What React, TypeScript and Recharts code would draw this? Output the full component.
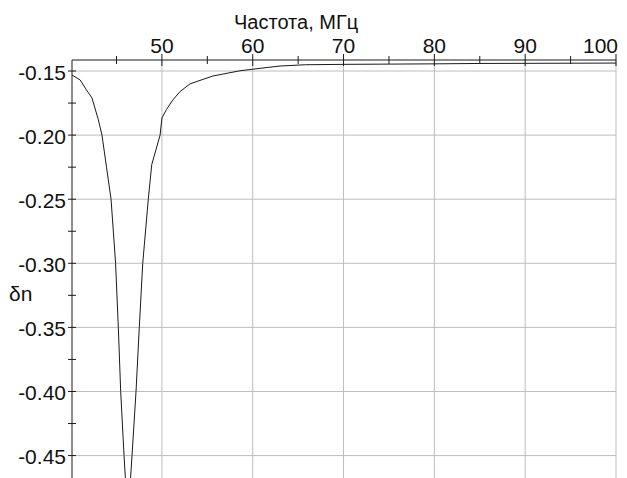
import { LineChart, Line, XAxis, YAxis, ReferenceLine } from "recharts";

const freq = [
  40.1, 41.0, 41.7, 42.3, 43.0, 43.4, 43.9, 44.4, 44.9, 45.2, 45.46, 45.83, 46.25,
  46.71, 47.15, 47.51, 47.89, 48.5, 48.88, 49.8, 50.0, 50.5, 51.2, 52.0, 53.1, 55.6,
  58.6, 60.8, 63.0, 65.8, 70, 75, 80, 85, 90, 95, 100,
];
const deltaN = [
  -0.1531, -0.157, -0.1648, -0.171, -0.188, -0.2, -0.225, -0.25, -0.3, -0.35, -0.4, -0.45, -0.5,
  -0.45, -0.4, -0.35, -0.3, -0.25, -0.223, -0.2, -0.1867, -0.18, -0.1726, -0.166, -0.16, -0.1539,
  -0.1498, -0.1479, -0.1461, -0.1451, -0.1448, -0.1446, -0.1444, -0.1441, -0.144, -0.1439, -0.1438,
];

const xMajor = [50, 60, 70, 80, 90, 100];
const xMinor = [45, 55, 65, 75, 85, 95];
const yMajor = [-0.15, -0.2, -0.25, -0.3, -0.35, -0.4, -0.45];
const yMinor = [-0.175, -0.225, -0.275, -0.325, -0.375, -0.425];

const data = freq.map((f, i) => ({ f, dn: deltaN[i] }));

const FONT = "'Liberation Sans', Arial, sans-serif";
const INK = "#1a1a1a";
const GRID = "#bdbdbd";

const XTick = ({ x, y, payload }: any) => {
  const v = payload.value;
  const major = xMajor.includes(v);
  const len = major ? 6 : 4;
  return (
    <g>
      <line x1={x} x2={x} y1={y - len} y2={y + len} stroke={INK} strokeWidth={1} />
      {major && (
        <text
          x={v === 100 ? x + 2 : x}
          y={y - 7.5}
          textAnchor={v === 100 ? "end" : "middle"}
          fontSize={21}
          fontFamily={FONT}
          fill="#111"
        >
          {v}
        </text>
      )}
    </g>
  );
};

const YTick = ({ x, y, payload }: any) => {
  const v = payload.value;
  const major = yMajor.some((m) => Math.abs(m - v) < 1e-9);
  return (
    <g>
      <line x1={x - 4} x2={x + 4} y1={y} y2={y} stroke={INK} strokeWidth={1} />
      {major && (
        <text x={x - 6} y={y + 8.5} textAnchor="end" fontSize={21} fontFamily={FONT} fill="#111">
          {v.toFixed(2)}
        </text>
      )}
    </g>
  );
};

export default function App() {
  return (
    <div
      style={{
        position: "absolute",
        left: 0,
        top: 0,
        width: 627,
        height: 478,
        background: "#fff",
        overflow: "hidden",
        fontFamily: FONT,
      }}
    >
      <LineChart width={627} height={478} data={data} margin={{ top: 30, right: 11, bottom: 0, left: 12 }}>
        {xMajor.map((v) => (
          <ReferenceLine key={"gx" + v} x={v} stroke={GRID} strokeWidth={1} />
        ))}
        {yMajor.map((v) => (
          <ReferenceLine key={"gy" + v} y={v} stroke={GRID} strokeWidth={1} />
        ))}
        <XAxis
          dataKey="f"
          type="number"
          orientation="top"
          domain={[40.1, 100]}
          ticks={[...xMinor, ...xMajor].sort((a, b) => a - b)}
          interval={0}
          height={30}
          tickSize={0}
          tickMargin={0}
          tickLine={false}
          axisLine={{ stroke: INK }}
          tick={XTick}
          allowDataOverflow
        />
        <YAxis
          type="number"
          domain={[-0.4675, -0.1414]}
          ticks={[...yMajor, ...yMinor].sort((a, b) => a - b)}
          interval={0}
          width={60}
          tickSize={0}
          tickMargin={0}
          tickLine={false}
          axisLine={{ stroke: INK }}
          tick={YTick}
          allowDataOverflow
        />
        <Line
          type="linear"
          dataKey="dn"
          stroke={INK}
          strokeWidth={1}
          dot={false}
          activeDot={false}
          isAnimationActive={false}
        />
      </LineChart>
      <svg
        width={627}
        height={478}
        style={{ position: "absolute", left: 0, top: 0, pointerEvents: "none" }}
      >
        <text x={234} y={29} fontSize={20} fontFamily={FONT} fill="#111">
          Частота, МГц
        </text>
        <text x={9} y={301} fontSize={21} fontFamily={FONT} fill="#111">
          δn
        </text>
      </svg>
    </div>
  );
}
